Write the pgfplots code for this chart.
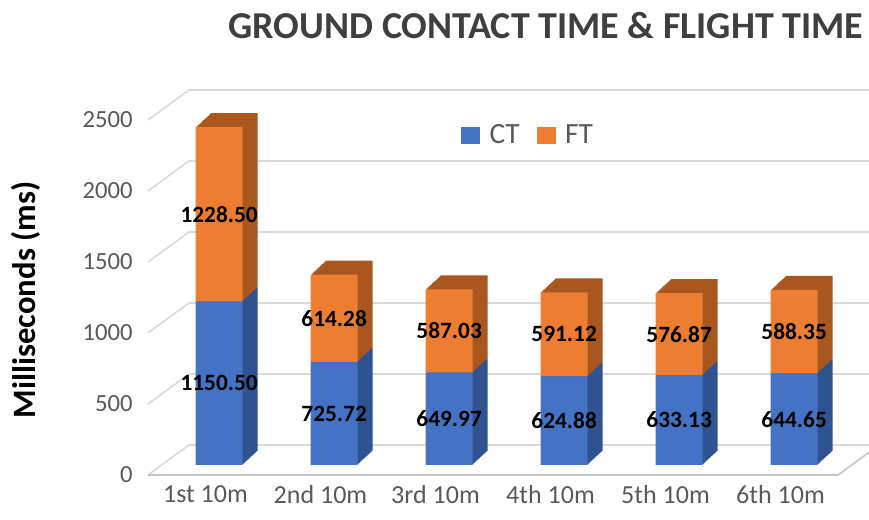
\documentclass[border=0pt]{standalone}
\usepackage{pgfplots}
\pgfplotsset{compat=1.18}
\usepackage{pgfplotstable}
\usepackage{fontspec}
\setmainfont{Carlito}
\definecolor{ctblue}{HTML}{4472C4}
\definecolor{ftorange}{HTML}{ED7D31}
\definecolor{ctside}{HTML}{2F5290}
\definecolor{ftside}{HTML}{A9561F}
\definecolor{gridgray}{HTML}{D9D9D9}
\definecolor{floorgray}{HTML}{C4C4C4}
\definecolor{ticktext}{HTML}{595959}
\definecolor{titletext}{HTML}{3F3F3F}
\pgfkeys{/pgf/number format/.cd,1000 sep={},assume math mode=true}

\pgfplotstableread{
x ct ft
0 1150.50 1228.50
1 725.72 614.28
2 649.97 587.03
3 624.88 591.12
4 633.13 576.87
5 644.65 588.35
}\timestable

\pgfplotsset{
  chartbase/.style={
    scale only axis, width=517.5pt, height=266.25pt,
    xmin=-0.5, xmax=5.5, ymin=0, ymax=2500,
    enlargelimits=false, anchor=south west,
  },
  barlayer/.style={chartbase, hide axis, ybar stacked, bar width=35.25pt, clip=false},
}

\begin{document}
\begin{tikzpicture}
\path[use as bounding box] (0,0) rectangle (651.75pt,390pt);
% back wall with grid
\begin{axis}[chartbase, at={(141.75pt,56.25pt)}, clip=false,
  axis line style={draw=none}, tick style={draw=none},
  xtick=\empty, ytick={0,500,...,2500}, yticklabels={},
  ymajorgrids, grid style={gridgray, line width=1.2pt}]
  \pgfplotsinvokeforeach{0,500,1000,1500,2000,2500}{
    \draw[gridgray, line width=1.2pt] (axis cs:-0.5,#1) -- ++(-30.75pt,-22.5pt);
  }
  \draw[floorgray, line width=1.2pt] (axis cs:-0.5,0) ++(-30.75pt,-22.5pt) -- ++(517.5pt,0pt) -- ++(30.75pt,22.5pt);
\end{axis}
% depth of the bars
\foreach \k in {16,15,...,1}{
\begin{axis}[barlayer, at={(121.25pt+\k*0.703125pt,41.25pt+\k*0.65625pt)}]
  \addplot[fill=ctside, draw=none] table[x=x,y=ct]{\timestable};
  \addplot[fill=ftside, draw=none] table[x=x,y=ft]{\timestable};
\end{axis}
}
% front faces of the bars
\begin{axis}[barlayer, at={(121.25pt,41.25pt)},
  nodes near coords={\pgfmathprintnumber[fixed,fixed zerofill,precision=2]{\pgfplotspointmeta}},
  point meta=explicit,
  every node near coord/.append style={anchor=center, text=black,
    font=\bfseries\fontsize{17.5pt}{20pt}\selectfont}]
  \addplot[fill=ctblue, draw=none] table[x=x,y=ct,meta=ct]{\timestable};
  \addplot[fill=ftorange, draw=none] table[x=x,y=ft,meta=ft]{\timestable};
\end{axis}
% front axis: tick labels and legend
\begin{axis}[chartbase, at={(111pt,33.75pt)},
  axis x line*=bottom, axis y line*=left, axis line style={draw=none}, tick style={draw=none},
  xtick={0,1,2,3,4,5},
  xticklabels={1st 10m,2nd 10m,3rd 10m,4th 10m,5th 10m,6th 10m},
  ytick={0,500,1000,1500,2000,2500},
  tick label style={text=ticktext},
  xticklabel style={font=\fontsize{19.5pt}{22pt}\selectfont, yshift=-4.5pt},
  yticklabel style={font=\fontsize{18.5pt}{22pt}\selectfont, xshift=-8pt},
  legend columns=2,
  legend style={at={(rel axis cs:0.448,0.958)}, anchor=west, draw=none, fill=none,
    font=\fontsize{22pt}{25pt}\selectfont, text=ticktext,
    /tikz/every even column/.append style={column sep=11pt}}]
  \addlegendimage{legend image code/.code={\fill[ctblue] (0pt,-6pt) rectangle (13.5pt,6pt); \path (18.75pt,0pt);}}
  \addlegendentry{CT}
  \addlegendimage{legend image code/.code={\fill[ftorange] (0pt,-6pt) rectangle (13.5pt,6pt); \path (18.75pt,0pt);}}
  \addlegendentry{FT}
\end{axis}
\node[font=\bfseries\fontsize{28.5pt}{33pt}\selectfont, text=titletext] at (409.5pt,370.5pt)
  {GROUND CONTACT TIME \& FLIGHT TIME};
\node[rotate=90, font=\bfseries\fontsize{24.5pt}{28pt}\selectfont, text=black] at (19.5pt,165pt)
  {Milliseconds (ms)};
\end{tikzpicture}
\end{document}
